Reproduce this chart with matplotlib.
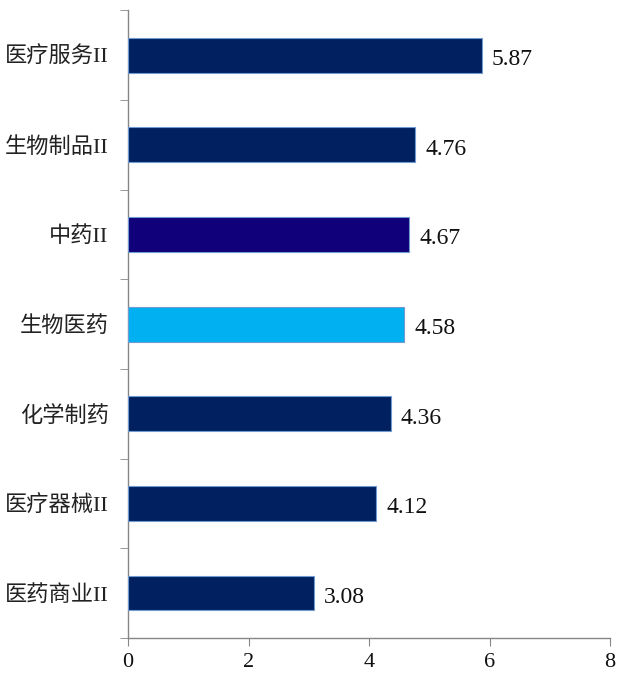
import matplotlib
matplotlib.use("Agg")
import matplotlib.pyplot as plt
import numpy as np

# categories listed top to bottom
categories = ["医疗服务II", "生物制品II", "中药II", "生物医药", "化学制药", "医疗器械II", "医药商业II"]
values = [5.87, 4.76, 4.67, 4.58, 4.36, 4.12, 3.08]
colors = ["#002060", "#002060", "#10007A", "#00B0F0", "#002060", "#002060", "#002060"]
x_ticks = [0, 2, 4, 6, 8]

plt.rcParams['font.family'] = ['Liberation Serif', 'Noto Sans CJK SC']

fig = plt.figure(figsize=(6.2, 6.8), dpi=100)
ax = fig.add_axes([0.2065, 0.062, 0.7775, 0.923])

y = np.arange(len(categories))[::-1]
ax.barh(y, values, height=0.39, color=colors, edgecolor="#6F9BD1", linewidth=0.8, zorder=3)

for yi, v in zip(y, values):
    ax.text(v + 0.17, yi - 0.05, f"{v:.2f}", va="center", ha="left", fontsize=17, color="#111111")

ax.set_xlim(0, 8)
ax.set_ylim(-0.5, len(categories) - 0.5)
ax.set_xticks(x_ticks)
ax.set_xticklabels([str(t) for t in x_ticks], fontsize=16, color="#111111")

# category labels centred on bars, tick marks at boundaries
ax.set_yticks(y)
ax.set_yticklabels(categories, fontsize=16, color="#222222")
ax.tick_params(axis="y", which="major", length=0, pad=14)
ax.set_yticks(np.arange(-0.5, len(categories)), minor=True)
ax.tick_params(axis="y", which="minor", length=6, color="#868686", direction="out")
ax.tick_params(axis="x", length=6, color="#868686", direction="out", pad=5)

for s in ["top", "right"]:
    ax.spines[s].set_visible(False)
for s in ["left", "bottom"]:
    ax.spines[s].set_color("#868686")
    ax.spines[s].set_linewidth(1.0)

fig.savefig("out.png", dpi=100)
